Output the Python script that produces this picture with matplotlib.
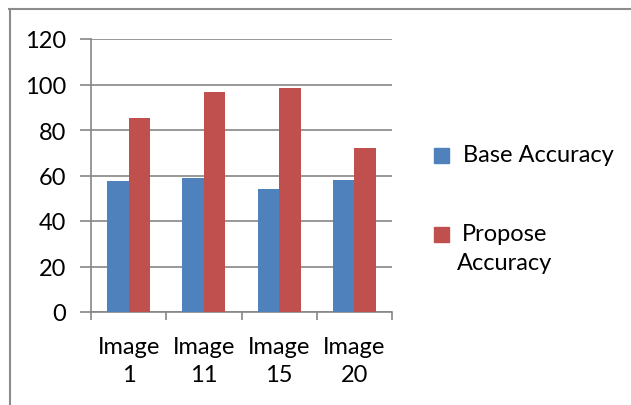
import numpy as np
import matplotlib
matplotlib.use('Agg')
import matplotlib.pyplot as plt
from matplotlib.lines import Line2D
from matplotlib.patches import Rectangle

# data
categories = ['Image\n1', 'Image\n11', 'Image\n15', 'Image\n20']
base_acc = [57.6, 58.7, 53.9, 58.2]
propose_acc = [85.3, 96.7, 98.3, 72.0]
series_names = ['Base Accuracy', 'Propose\nAccuracy']

blue = '#4F81BD'
red = '#C0504D'
grid_col = '#868686'

plt.rcParams['font.family'] = ['Lato', 'DejaVu Sans']

W, H = 631, 406
fig = plt.figure(figsize=(W / 100, H / 100), dpi=100)
ax = fig.add_axes([91 / W, 1 - 313 / H, 301 / W, 273 / H])

x = np.arange(len(categories))
bw = 0.286
ax.bar(x - bw / 2, base_acc, bw, color=blue, zorder=3)
ax.bar(x + bw / 2, propose_acc, bw, color=red, zorder=3)

ax.set_xlim(-0.5, len(categories) - 0.5)
ax.set_ylim(0, 120)
ax.set_yticks(range(0, 121, 20))
ax.yaxis.grid(True, color=grid_col, linewidth=1.2, zorder=0)

ax.set_xticks(x)
ax.set_xticklabels(categories, fontsize=17, linespacing=1.45)
ax.set_xticks(np.arange(-0.5, len(categories)), minor=True)
ax.tick_params(axis='x', which='major', length=0, pad=17)
ax.tick_params(axis='x', which='minor', length=6, width=1.2, color=grid_col, direction='out')
ax.tick_params(axis='y', length=8, width=1.2, color=grid_col, labelsize=17, pad=10)

for s in ['top', 'right']:
    ax.spines[s].set_visible(False)
for s in ['left', 'bottom']:
    ax.spines[s].set_color(grid_col)
    ax.spines[s].set_linewidth(1.2)

# legend, drawn by hand so the marker lines up with the first text line
for col, yy in zip([blue, red], [156, 235]):
    fig.add_artist(Rectangle((434 / W, 1 - (yy + 7.5) / H), 15 / W, 15 / H,
                             transform=fig.transFigure, color=col))
fig.text(463 / W, 1 - 156 / H, series_names[0], fontsize=17, va='center', ha='left')
fig.text(457 / W, 1 - 224 / H, series_names[1], fontsize=17, va='top', ha='left',
         multialignment='center', linespacing=1.45)

# outer chart border (top and left only visible)
fig.add_artist(Line2D([9 / W, 1], [1 - 9.5 / H, 1 - 9.5 / H], color='#8c8c8c', linewidth=1.5))
fig.add_artist(Line2D([9.5 / W, 9.5 / W], [0, 1 - 9.5 / H], color='#8c8c8c', linewidth=1.5))

fig.savefig('out.png', dpi=100)
